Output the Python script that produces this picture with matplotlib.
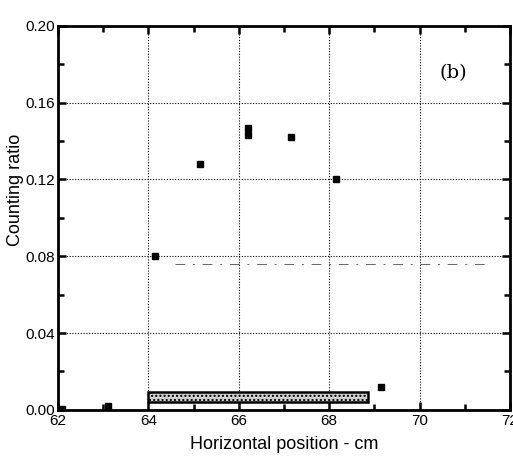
import numpy as np
import matplotlib.pyplot as plt
from matplotlib.ticker import MultipleLocator

plt.rcParams['font.family'] = ['Liberation Sans', 'DejaVu Sans']

# measured points
pos = [62.1, 63.1, 64.15, 65.15, 66.2, 66.2, 67.15, 68.15, 69.15]
ratio = [0.0005, 0.002, 0.080, 0.128, 0.147, 0.143, 0.142, 0.120, 0.012]

# detector bar along the bottom
bar_start = 64.0
bar_end = 68.85
bar_low = 0.004
bar_high = 0.0095

fig = plt.figure(figsize=(5.13, 4.61), dpi=100)
ax = fig.add_axes([0.113, 0.111, 0.881, 0.833])

ax.grid(True, which='major', color='black', linestyle=(0, (1, 1.5)), linewidth=0.8)
ax.plot([64.6, 71.5], [0.076, 0.076], color='black', linewidth=0.7,
        linestyle=(0, (10, 8, 2, 8)), alpha=0.6)

ax.bar(bar_start, bar_high - bar_low, width=bar_end - bar_start, bottom=bar_low,
       align='edge', facecolor='#d0d0d0', edgecolor='black', linewidth=1.8,
       hatch='....', zorder=3)

ax.plot(pos, ratio, linestyle='none', marker='s', markersize=5,
        color='black', zorder=4)

ax.text(70.45, 0.173, '(b)', family='DejaVu Serif', fontsize=14)

ax.set_xlim(62, 72)
ax.set_ylim(0, 0.20)
ax.xaxis.set_major_locator(MultipleLocator(2))
ax.xaxis.set_minor_locator(MultipleLocator(1))
ax.yaxis.set_major_locator(MultipleLocator(0.04))
ax.yaxis.set_minor_locator(MultipleLocator(0.02))
ax.yaxis.set_major_formatter(plt.FuncFormatter(lambda v, p: f'{v:.2f}'))
ax.tick_params(which='both', direction='in', top=True, right=True,
               labelsize=11, width=1.8, pad=2)
ax.tick_params(axis='x', pad=3)
ax.tick_params(which='major', length=6)
ax.tick_params(which='minor', length=4)
for s in ax.spines.values():
    s.set_linewidth(2)

ax.set_xlabel('Horizontal position - cm', fontsize=13, labelpad=6)
ax.set_ylabel('Counting ratio', fontsize=13)
ax.yaxis.set_label_coords(-0.075, 0.573)

fig.savefig('out.png', dpi=100)
